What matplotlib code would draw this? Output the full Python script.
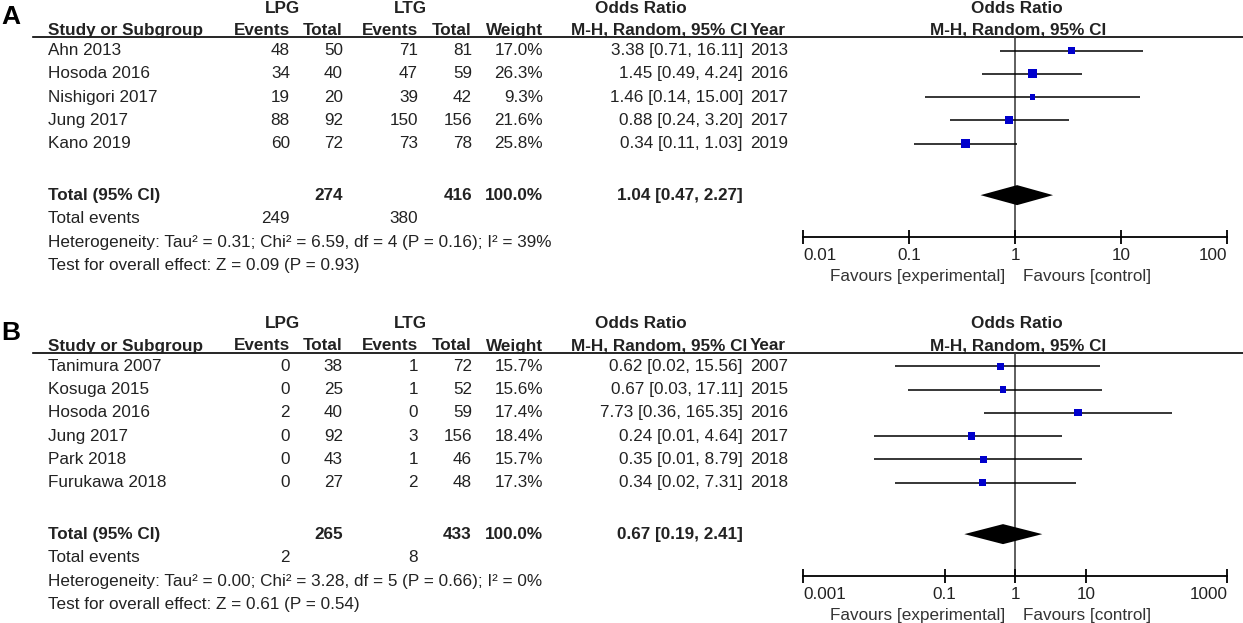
import numpy as np
import matplotlib
matplotlib.use('Agg')
import matplotlib.pyplot as plt

plt.rcParams['font.family'] = ['Liberation Sans', 'DejaVu Sans']

# panel A data
studies_a = ['Ahn 2013', 'Hosoda 2016', 'Nishigori 2017', 'Jung 2017', 'Kano 2019']
lpg_ev_a = [48, 34, 19, 88, 60]
lpg_tot_a = [50, 40, 20, 92, 72]
ltg_ev_a = [71, 47, 39, 150, 73]
ltg_tot_a = [81, 59, 42, 156, 78]
weight_a = [17.0, 26.3, 9.3, 21.6, 25.8]
or_a = [3.38, 1.45, 1.46, 0.88, 0.34]
lo_a = [0.71, 0.49, 0.14, 0.24, 0.11]
hi_a = [16.11, 4.24, 15.00, 3.20, 1.03]
year_a = [2013, 2016, 2017, 2017, 2019]
total_a = dict(lpg_tot=274, ltg_tot=416, lpg_ev=249, ltg_ev=380, est=1.04, lo=0.47, hi=2.27,
               het='Heterogeneity: Tau² = 0.31; Chi² = 6.59, df = 4 (P = 0.16); I² = 39%',
               test='Test for overall effect: Z = 0.09 (P = 0.93)')
ticks_a = [0.01, 0.1, 1, 10, 100]
tick_lbl_a = ['0.01', '0.1', '1', '10', '100']

# panel B data
studies_b = ['Tanimura 2007', 'Kosuga 2015', 'Hosoda 2016', 'Jung 2017', 'Park 2018', 'Furukawa 2018']
lpg_ev_b = [0, 0, 2, 0, 0, 0]
lpg_tot_b = [38, 25, 40, 92, 43, 27]
ltg_ev_b = [1, 1, 0, 3, 1, 2]
ltg_tot_b = [72, 52, 59, 156, 46, 48]
weight_b = [15.7, 15.6, 17.4, 18.4, 15.7, 17.3]
or_b = [0.62, 0.67, 7.73, 0.24, 0.35, 0.34]
lo_b = [0.02, 0.03, 0.36, 0.01, 0.01, 0.02]
hi_b = [15.56, 17.11, 165.35, 4.64, 8.79, 7.31]
year_b = [2007, 2015, 2016, 2017, 2018, 2018]
total_b = dict(lpg_tot=265, ltg_tot=433, lpg_ev=2, ltg_ev=8, est=0.67, lo=0.19, hi=2.41,
               het='Heterogeneity: Tau² = 0.00; Chi² = 3.28, df = 5 (P = 0.66); I² = 0%',
               test='Test for overall effect: Z = 0.61 (P = 0.54)')
ticks_b = [0.001, 0.1, 1, 10, 1000]
tick_lbl_b = ['0.001', '0.1', '1', '10', '1000']

W, H = 1243, 623
fig = plt.figure(figsize=(W / 100, H / 100), dpi=100)
bg = fig.add_axes([0, 0, 1, 1])
bg.set_xlim(0, W)
bg.set_ylim(H, 0)
bg.axis('off')

FS = 12.3
TC = '#222222'
ROW = 23.3


def txt(x, y, s, ha='left', bold=False, color=TC):
    bg.text(x, y, s, ha=ha, va='center', fontsize=FS, color=color,
            fontweight='bold' if bold else 'normal')


def panel(y0, label, studies, lpg_ev, lpg_tot, ltg_ev, ltg_tot, weight, est, lo, hi, year,
          tot, ticks, tick_lbls, xlim):
    # y0 = y of the header underline
    bg.text(1, y0 - 20, label, ha='left', va='center', fontsize=19, fontweight='bold', color='black')
    txt(283, y0 - 29, 'LPG', ha='center', bold=True)
    txt(410, y0 - 29, 'LTG', ha='center', bold=True)
    txt(641, y0 - 29, 'Odds Ratio', ha='center', bold=True)
    txt(1017, y0 - 29, 'Odds Ratio', ha='center', bold=True)
    hy = y0 - 7
    txt(48, hy, 'Study or Subgroup', bold=True)
    txt(290, hy, 'Events', ha='right', bold=True)
    txt(343, hy, 'Total', ha='right', bold=True)
    txt(418, hy, 'Events', ha='right', bold=True)
    txt(472, hy, 'Total', ha='right', bold=True)
    txt(543, hy, 'Weight', ha='right', bold=True)
    txt(747, hy, 'M-H, Random, 95% CI', ha='right', bold=True)
    txt(750, hy, 'Year', bold=True)
    txt(1018, hy, 'M-H, Random, 95% CI', ha='center', bold=True)
    bg.plot([33, W], [y0, y0], color='black', lw=1.2)

    n = len(studies)
    rows = y0 + 13.2 + ROW * np.arange(n)
    for i in range(n):
        y = rows[i]
        txt(48, y, studies[i])
        txt(290, y, str(lpg_ev[i]), ha='right')
        txt(343, y, str(lpg_tot[i]), ha='right')
        txt(418, y, str(ltg_ev[i]), ha='right')
        txt(472, y, str(ltg_tot[i]), ha='right')
        txt(543, y, f'{weight[i]:.1f}%', ha='right')
        txt(743, y, f'{est[i]:.2f} [{lo[i]:.2f}, {hi[i]:.2f}]', ha='right')
        txt(750, y, str(year[i]))
    ty = rows[-1] + 2.1 * ROW + 3
    txt(48, ty, 'Total (95% CI)', bold=True)
    txt(343, ty, str(tot['lpg_tot']), ha='right', bold=True)
    txt(472, ty, str(tot['ltg_tot']), ha='right', bold=True)
    txt(543, ty, '100.0%', ha='right', bold=True)
    txt(743, ty, f"{tot['est']:.2f} [{tot['lo']:.2f}, {tot['hi']:.2f}]", ha='right', bold=True)
    txt(48, ty + ROW, 'Total events')
    txt(290, ty + ROW, str(tot['lpg_ev']), ha='right')
    txt(418, ty + ROW, str(tot['ltg_ev']), ha='right')
    txt(48, ty + 2 * ROW, tot['het'])
    txt(48, ty + 3 * ROW, tot['test'])

    # forest plot axes, y in pixel units
    axis_y = ty + 41
    x0, x1 = 803.3, 1227.3
    ax = fig.add_axes([x0 / W, 1 - axis_y / H, (x1 - x0) / W, (axis_y - y0) / H])
    ax.set_xscale('log')
    ax.set_xlim(*xlim)
    ax.set_ylim(axis_y, y0)
    for s in ['top', 'left', 'right']:
        ax.spines[s].set_visible(False)
    ax.spines['bottom'].set_linewidth(1.3)
    ax.patch.set_alpha(0)
    ax.set_yticks([])
    ax.set_xticks(ticks, tick_lbls)
    ax.minorticks_off()
    ax.tick_params(axis='x', direction='inout', length=10, width=1.3, labelsize=FS,
                   labelcolor=TC, pad=3)
    lbls = ax.get_xticklabels()
    lbls[0].set_horizontalalignment('left')
    lbls[-1].set_horizontalalignment('right')
    ax.axvline(1, color='#333333', lw=1.1, zorder=1)
    ax.hlines(rows, lo, hi, color='black', lw=1.1, zorder=2)
    ax.scatter(est, rows, marker='s', s=(1.755 * np.sqrt(weight) * 0.72) ** 2,
               color='#0000cc', linewidths=0, zorder=3)
    dy = ty - 0.5
    ax.fill([tot['lo'], tot['est'], tot['hi'], tot['est']], [dy, dy - 10, dy, dy + 10],
            color='black', zorder=3, lw=0)
    txt(1005, axis_y + 40, 'Favours [experimental]', ha='right', color='#333333')
    txt(1023, axis_y + 40, 'Favours [control]', ha='left', color='#333333')
    return ax


axa = panel(37.3, 'A', studies_a, lpg_ev_a, lpg_tot_a, ltg_ev_a, ltg_tot_a, weight_a,
            or_a, lo_a, hi_a, year_a, total_a, ticks_a, tick_lbl_a, (0.01, 100))
axb = panel(353, 'B', studies_b, lpg_ev_b, lpg_tot_b, ltg_ev_b, ltg_tot_b, weight_b,
            or_b, lo_b, hi_b, year_b, total_b, ticks_b, tick_lbl_b, (0.001, 1000))

fig.savefig('out.png', dpi=100)
